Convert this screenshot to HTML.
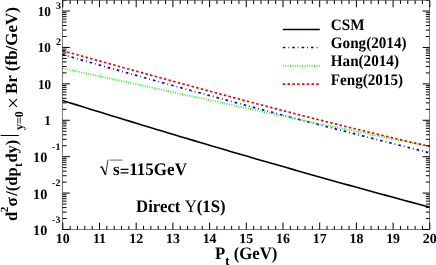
<!DOCTYPE html><html><head><meta charset="utf-8"><title>plot</title><style>
html,body{margin:0;padding:0;background:#fff;}body{width:436px;height:265px;overflow:hidden;}
svg{display:block;will-change:transform;}text{font-family:"Liberation Serif",serif;font-weight:bold;fill:#000;text-rendering:geometricPrecision;}
</style></head><body>
<svg width="436" height="265" viewBox="0 0 436 265">
<rect x="0" y="0" width="436" height="265" fill="#fff"/>
<g fill="none" stroke-linecap="butt">
<path d="M62.50,100.50 L68.72,102.44 L74.94,104.37 L81.16,106.31 L87.38,108.24 L93.60,110.16 L99.82,112.08 L106.04,114.00 L112.26,115.91 L118.48,117.82 L124.70,119.72 L130.92,121.62 L137.14,123.52 L143.36,125.41 L149.58,127.29 L155.81,129.18 L162.03,131.05 L168.25,132.92 L174.47,134.79 L180.69,136.66 L186.91,138.52 L193.13,140.37 L199.35,142.22 L205.57,144.06 L211.79,145.90 L218.01,147.74 L224.23,149.57 L230.45,151.40 L236.67,153.22 L242.89,155.03 L249.11,156.84 L255.33,158.65 L261.55,160.45 L267.77,162.25 L273.99,164.04 L280.21,165.82 L286.43,167.60 L292.65,169.38 L298.87,171.15 L305.09,172.92 L311.31,174.68 L317.53,176.43 L323.75,178.18 L329.97,179.93 L336.19,181.67 L342.42,183.40 L348.64,185.13 L354.86,186.85 L361.08,188.57 L367.30,190.28 L373.52,191.99 L379.74,193.69 L385.96,195.38 L392.18,197.07 L398.40,198.76 L404.62,200.44 L410.84,202.11 L417.06,203.78 L423.28,205.44 L429.50,207.10" stroke="#000" stroke-width="1.6"/>
<path d="M62.50,54.49 L68.72,56.28 L74.94,58.06 L81.16,59.84 L87.38,61.62 L93.60,63.39 L99.82,65.15 L106.04,66.91 L112.26,68.67 L118.48,70.42 L124.70,72.17 L130.92,73.91 L137.14,75.65 L143.36,77.38 L149.58,79.11 L155.81,80.84 L162.03,82.56 L168.25,84.27 L174.47,85.99 L180.69,87.69 L186.91,89.40 L193.13,91.10 L199.35,92.79 L205.57,94.48 L211.79,96.17 L218.01,97.86 L224.23,99.53 L230.45,101.21 L236.67,102.88 L242.89,104.55 L249.11,106.21 L255.33,107.87 L261.55,109.52 L267.77,111.17 L273.99,112.82 L280.21,114.46 L286.43,116.10 L292.65,117.74 L298.87,119.37 L305.09,121.00 L311.31,122.62 L317.53,124.24 L323.75,125.86 L329.97,127.47 L336.19,129.08 L342.42,130.68 L348.64,132.29 L354.86,133.88 L361.08,135.48 L367.30,137.07 L373.52,138.65 L379.74,140.24 L385.96,141.82 L392.18,143.39 L398.40,144.96 L404.62,146.53 L410.84,148.10 L417.06,149.66 L423.28,151.22 L429.50,152.77" stroke="#00f" stroke-width="1.7" stroke-dasharray="2.6 3.0 0.8 3.0"/>
<path d="M62.50,68.29 L68.72,69.62 L74.94,70.95 L81.16,72.28 L87.38,73.62 L93.60,74.96 L99.82,76.30 L106.04,77.64 L112.26,78.99 L118.48,80.33 L124.70,81.68 L130.92,83.03 L137.14,84.38 L143.36,85.73 L149.58,87.08 L155.81,88.43 L162.03,89.78 L168.25,91.14 L174.47,92.49 L180.69,93.84 L186.91,95.19 L193.13,96.55 L199.35,97.90 L205.57,99.25 L211.79,100.60 L218.01,101.95 L224.23,103.30 L230.45,104.65 L236.67,106.00 L242.89,107.34 L249.11,108.69 L255.33,110.03 L261.55,111.37 L267.77,112.71 L273.99,114.05 L280.21,115.38 L286.43,116.71 L292.65,118.04 L298.87,119.37 L305.09,120.70 L311.31,122.02 L317.53,123.33 L323.75,124.65 L329.97,125.96 L336.19,127.27 L342.42,128.57 L348.64,129.87 L354.86,131.17 L361.08,132.46 L367.30,133.75 L373.52,135.03 L379.74,136.31 L385.96,137.58 L392.18,138.85 L398.40,140.12 L404.62,141.37 L410.84,142.63 L417.06,143.88 L423.28,145.12 L429.50,146.36" stroke="#0f0" stroke-width="1.7" stroke-dasharray="0.9 1.5"/>
<path d="M62.50,50.70 L68.72,52.43 L74.94,54.16 L81.16,55.89 L87.38,57.62 L93.60,59.34 L99.82,61.07 L106.04,62.79 L112.26,64.52 L118.48,66.24 L124.70,67.96 L130.92,69.68 L137.14,71.40 L143.36,73.11 L149.58,74.82 L155.81,76.53 L162.03,78.24 L168.25,79.94 L174.47,81.64 L180.69,83.34 L186.91,85.03 L193.13,86.72 L199.35,88.41 L205.57,90.09 L211.79,91.77 L218.01,93.44 L224.23,95.11 L230.45,96.77 L236.67,98.43 L242.89,100.09 L249.11,101.73 L255.33,103.38 L261.55,105.01 L267.77,106.65 L273.99,108.27 L280.21,109.89 L286.43,111.50 L292.65,113.11 L298.87,114.71 L305.09,116.30 L311.31,117.88 L317.53,119.46 L323.75,121.03 L329.97,122.59 L336.19,124.15 L342.42,125.69 L348.64,127.23 L354.86,128.76 L361.08,130.28 L367.30,131.79 L373.52,133.29 L379.74,134.79 L385.96,136.27 L392.18,137.75 L398.40,139.21 L404.62,140.66 L410.84,142.11 L417.06,143.54 L423.28,144.97 L429.50,146.38" stroke="#f00" stroke-width="1.7" stroke-dasharray="2.5 2.28"/>
</g>
<g stroke="#000" stroke-width="1" fill="none" shape-rendering="auto">
<path d="M62.50,0.40 V229.50 H429.50 V0.40 Z" stroke-opacity="0.5"/>
<path d="M62.80,229.50 v-6.90 M62.80,0.40 v6.90"/>
<path d="M70.14,229.50 v-3.60 M70.14,0.40 v3.60"/>
<path d="M77.48,229.50 v-3.60 M77.48,0.40 v3.60"/>
<path d="M84.82,229.50 v-3.60 M84.82,0.40 v3.60"/>
<path d="M92.16,229.50 v-3.60 M92.16,0.40 v3.60"/>
<path d="M99.50,229.50 v-6.90 M99.50,0.40 v6.90"/>
<path d="M106.84,229.50 v-3.60 M106.84,0.40 v3.60"/>
<path d="M114.18,229.50 v-3.60 M114.18,0.40 v3.60"/>
<path d="M121.52,229.50 v-3.60 M121.52,0.40 v3.60"/>
<path d="M128.86,229.50 v-3.60 M128.86,0.40 v3.60"/>
<path d="M136.20,229.50 v-6.90 M136.20,0.40 v6.90"/>
<path d="M143.54,229.50 v-3.60 M143.54,0.40 v3.60"/>
<path d="M150.88,229.50 v-3.60 M150.88,0.40 v3.60"/>
<path d="M158.22,229.50 v-3.60 M158.22,0.40 v3.60"/>
<path d="M165.56,229.50 v-3.60 M165.56,0.40 v3.60"/>
<path d="M172.90,229.50 v-6.90 M172.90,0.40 v6.90"/>
<path d="M180.24,229.50 v-3.60 M180.24,0.40 v3.60"/>
<path d="M187.58,229.50 v-3.60 M187.58,0.40 v3.60"/>
<path d="M194.92,229.50 v-3.60 M194.92,0.40 v3.60"/>
<path d="M202.26,229.50 v-3.60 M202.26,0.40 v3.60"/>
<path d="M209.60,229.50 v-6.90 M209.60,0.40 v6.90"/>
<path d="M216.94,229.50 v-3.60 M216.94,0.40 v3.60"/>
<path d="M224.28,229.50 v-3.60 M224.28,0.40 v3.60"/>
<path d="M231.62,229.50 v-3.60 M231.62,0.40 v3.60"/>
<path d="M238.96,229.50 v-3.60 M238.96,0.40 v3.60"/>
<path d="M246.30,229.50 v-6.90 M246.30,0.40 v6.90"/>
<path d="M253.64,229.50 v-3.60 M253.64,0.40 v3.60"/>
<path d="M260.98,229.50 v-3.60 M260.98,0.40 v3.60"/>
<path d="M268.32,229.50 v-3.60 M268.32,0.40 v3.60"/>
<path d="M275.66,229.50 v-3.60 M275.66,0.40 v3.60"/>
<path d="M283.00,229.50 v-6.90 M283.00,0.40 v6.90"/>
<path d="M290.34,229.50 v-3.60 M290.34,0.40 v3.60"/>
<path d="M297.68,229.50 v-3.60 M297.68,0.40 v3.60"/>
<path d="M305.02,229.50 v-3.60 M305.02,0.40 v3.60"/>
<path d="M312.36,229.50 v-3.60 M312.36,0.40 v3.60"/>
<path d="M319.70,229.50 v-6.90 M319.70,0.40 v6.90"/>
<path d="M327.04,229.50 v-3.60 M327.04,0.40 v3.60"/>
<path d="M334.38,229.50 v-3.60 M334.38,0.40 v3.60"/>
<path d="M341.72,229.50 v-3.60 M341.72,0.40 v3.60"/>
<path d="M349.06,229.50 v-3.60 M349.06,0.40 v3.60"/>
<path d="M356.40,229.50 v-6.90 M356.40,0.40 v6.90"/>
<path d="M363.74,229.50 v-3.60 M363.74,0.40 v3.60"/>
<path d="M371.08,229.50 v-3.60 M371.08,0.40 v3.60"/>
<path d="M378.42,229.50 v-3.60 M378.42,0.40 v3.60"/>
<path d="M385.76,229.50 v-3.60 M385.76,0.40 v3.60"/>
<path d="M393.10,229.50 v-6.90 M393.10,0.40 v6.90"/>
<path d="M400.44,229.50 v-3.60 M400.44,0.40 v3.60"/>
<path d="M407.78,229.50 v-3.60 M407.78,0.40 v3.60"/>
<path d="M415.12,229.50 v-3.60 M415.12,0.40 v3.60"/>
<path d="M422.46,229.50 v-3.60 M422.46,0.40 v3.60"/>
<path d="M429.80,229.50 v-6.90 M429.80,0.40 v6.90"/>
<path d="M62.50,229.50 h7.35 M429.50,229.50 h-6.90"/>
<path d="M62.50,218.54 h4.05 M429.50,218.54 h-3.60"/>
<path d="M62.50,212.13 h4.05 M429.50,212.13 h-3.60"/>
<path d="M62.50,207.58 h4.05 M429.50,207.58 h-3.60"/>
<path d="M62.50,204.05 h4.05 M429.50,204.05 h-3.60"/>
<path d="M62.50,201.17 h4.05 M429.50,201.17 h-3.60"/>
<path d="M62.50,198.73 h4.05 M429.50,198.73 h-3.60"/>
<path d="M62.50,196.62 h4.05 M429.50,196.62 h-3.60"/>
<path d="M62.50,194.76 h4.05 M429.50,194.76 h-3.60"/>
<path d="M62.50,193.09 h7.35 M429.50,193.09 h-6.90"/>
<path d="M62.50,182.13 h4.05 M429.50,182.13 h-3.60"/>
<path d="M62.50,175.72 h4.05 M429.50,175.72 h-3.60"/>
<path d="M62.50,171.17 h4.05 M429.50,171.17 h-3.60"/>
<path d="M62.50,167.64 h4.05 M429.50,167.64 h-3.60"/>
<path d="M62.50,164.76 h4.05 M429.50,164.76 h-3.60"/>
<path d="M62.50,162.32 h4.05 M429.50,162.32 h-3.60"/>
<path d="M62.50,160.21 h4.05 M429.50,160.21 h-3.60"/>
<path d="M62.50,158.35 h4.05 M429.50,158.35 h-3.60"/>
<path d="M62.50,156.68 h7.35 M429.50,156.68 h-6.90"/>
<path d="M62.50,145.72 h4.05 M429.50,145.72 h-3.60"/>
<path d="M62.50,139.31 h4.05 M429.50,139.31 h-3.60"/>
<path d="M62.50,134.76 h4.05 M429.50,134.76 h-3.60"/>
<path d="M62.50,131.23 h4.05 M429.50,131.23 h-3.60"/>
<path d="M62.50,128.35 h4.05 M429.50,128.35 h-3.60"/>
<path d="M62.50,125.91 h4.05 M429.50,125.91 h-3.60"/>
<path d="M62.50,123.80 h4.05 M429.50,123.80 h-3.60"/>
<path d="M62.50,121.94 h4.05 M429.50,121.94 h-3.60"/>
<path d="M62.50,120.27 h7.35 M429.50,120.27 h-6.90"/>
<path d="M62.50,109.31 h4.05 M429.50,109.31 h-3.60"/>
<path d="M62.50,102.90 h4.05 M429.50,102.90 h-3.60"/>
<path d="M62.50,98.35 h4.05 M429.50,98.35 h-3.60"/>
<path d="M62.50,94.82 h4.05 M429.50,94.82 h-3.60"/>
<path d="M62.50,91.94 h4.05 M429.50,91.94 h-3.60"/>
<path d="M62.50,89.50 h4.05 M429.50,89.50 h-3.60"/>
<path d="M62.50,87.39 h4.05 M429.50,87.39 h-3.60"/>
<path d="M62.50,85.53 h4.05 M429.50,85.53 h-3.60"/>
<path d="M62.50,83.86 h7.35 M429.50,83.86 h-6.90"/>
<path d="M62.50,72.90 h4.05 M429.50,72.90 h-3.60"/>
<path d="M62.50,66.49 h4.05 M429.50,66.49 h-3.60"/>
<path d="M62.50,61.94 h4.05 M429.50,61.94 h-3.60"/>
<path d="M62.50,58.41 h4.05 M429.50,58.41 h-3.60"/>
<path d="M62.50,55.53 h4.05 M429.50,55.53 h-3.60"/>
<path d="M62.50,53.09 h4.05 M429.50,53.09 h-3.60"/>
<path d="M62.50,50.98 h4.05 M429.50,50.98 h-3.60"/>
<path d="M62.50,49.12 h4.05 M429.50,49.12 h-3.60"/>
<path d="M62.50,47.45 h7.35 M429.50,47.45 h-6.90"/>
<path d="M62.50,36.49 h4.05 M429.50,36.49 h-3.60"/>
<path d="M62.50,30.08 h4.05 M429.50,30.08 h-3.60"/>
<path d="M62.50,25.53 h4.05 M429.50,25.53 h-3.60"/>
<path d="M62.50,22.00 h4.05 M429.50,22.00 h-3.60"/>
<path d="M62.50,19.12 h4.05 M429.50,19.12 h-3.60"/>
<path d="M62.50,16.68 h4.05 M429.50,16.68 h-3.60"/>
<path d="M62.50,14.57 h4.05 M429.50,14.57 h-3.60"/>
<path d="M62.50,12.71 h4.05 M429.50,12.71 h-3.60"/>
<path d="M62.50,11.04 h7.35 M429.50,11.04 h-6.90"/>
<path d="M62.50,0.08 h4.05 M429.50,0.08 h-3.60"/>
</g>
<text transform="translate(62.80,242.9) scale(1,1.0)" font-size="13.9" text-anchor="middle">10</text>
<text transform="translate(99.50,242.9) scale(1,1.0)" font-size="13.9" text-anchor="middle">11</text>
<text transform="translate(136.20,242.9) scale(1,1.0)" font-size="13.9" text-anchor="middle">12</text>
<text transform="translate(172.90,242.9) scale(1,1.0)" font-size="13.9" text-anchor="middle">13</text>
<text transform="translate(209.60,242.9) scale(1,1.0)" font-size="13.9" text-anchor="middle">14</text>
<text transform="translate(246.30,242.9) scale(1,1.0)" font-size="13.9" text-anchor="middle">15</text>
<text transform="translate(283.00,242.9) scale(1,1.0)" font-size="13.9" text-anchor="middle">16</text>
<text transform="translate(319.70,242.9) scale(1,1.0)" font-size="13.9" text-anchor="middle">17</text>
<text transform="translate(356.40,242.9) scale(1,1.0)" font-size="13.9" text-anchor="middle">18</text>
<text transform="translate(393.10,242.9) scale(1,1.0)" font-size="13.9" text-anchor="middle">19</text>
<text transform="translate(429.80,242.9) scale(1,1.0)" font-size="13.9" text-anchor="middle">20</text>
<text transform="translate(47.30,235.00) scale(1,1.010)" font-size="14.20" text-anchor="end">10</text>
<text transform="translate(60.40,222.70) scale(1,1.000)" font-size="10.00" text-anchor="end">-3</text>
<text transform="translate(47.30,198.59) scale(1,1.010)" font-size="14.20" text-anchor="end">10</text>
<text transform="translate(60.40,186.29) scale(1,1.000)" font-size="10.00" text-anchor="end">-2</text>
<text transform="translate(47.30,162.18) scale(1,1.010)" font-size="14.20" text-anchor="end">10</text>
<text transform="translate(60.40,149.88) scale(1,1.000)" font-size="10.00" text-anchor="end">-1</text>
<text transform="translate(50.90,124.87) scale(1,1.040)" font-size="13.20" text-anchor="end">1</text>
<text transform="translate(51.20,89.06) scale(1,1.040)" font-size="13.20" text-anchor="end">10</text>
<text transform="translate(50.90,52.05) scale(1,1.040)" font-size="13.20" text-anchor="end">10</text>
<text transform="translate(60.90,45.35) scale(1,1.000)" font-size="10.00" text-anchor="end">2</text>
<text transform="translate(50.90,15.64) scale(1,1.040)" font-size="13.20" text-anchor="end">10</text>
<text transform="translate(60.90,8.94) scale(1,1.000)" font-size="10.00" text-anchor="end">3</text>
<text transform="translate(214.9,258.6) scale(1,1.04)" font-size="16.8">P<tspan font-size="12.5" dy="6.6" dx="0.1">t</tspan><tspan dy="-6.6"> (GeV)</tspan></text>
<g transform="translate(17.0,220.6) rotate(-90)">
<text x="-0.30" y="0.00" font-size="16.50" style="font-weight:bold">d</text>
<text x="8.40" y="-8.60" font-size="11.00" style="font-weight:bold">2</text>
<text x="14.00" y="0.00" font-size="17.00" style="font-weight:bold">σ</text>
<text x="24.90" y="0.00" font-size="16.50" style="font-weight:bold">/(dp</text>
<text x="53.50" y="5.40" font-size="12.00" style="font-weight:bold">t</text>
<text x="58.00" y="0.00" font-size="16.50" style="font-weight:bold">dy)</text>
<path d="M85.1,-16.4 V1.9" stroke="#000" stroke-width="1"/>
<text x="90.60" y="5.70" font-size="12.00" style="font-weight:bold">y=0</text>
<text x="111.70" y="2.60" font-size="21.00" style="font-weight:normal">×</text>
<text x="126.60" y="0.00" font-size="17.00" style="font-weight:bold">Br (fb/GeV)</text>
</g>
<g fill="none" stroke-width="1.7">
<path d="M282.8,29.40 H319.8" stroke="#000" stroke-width="1.5"/>
<path d="M282.8,47.50 H319.8" stroke="#00f" stroke-dasharray="2.6 3.0 0.8 3.0"/>
<path d="M282.8,65.80 H319.8" stroke="#0f0" stroke-dasharray="0.9 1.5"/>
<path d="M282.8,84.10 H319.8" stroke="#f00" stroke-dasharray="2.5 2.28"/>
</g>
<text transform="translate(330.8,29.60) scale(1,1.06)" font-size="15.15">CSM</text>
<text transform="translate(330.8,47.90) scale(1,1.06)" font-size="15.15">Gong(2014)</text>
<text transform="translate(330.8,66.20) scale(1,1.06)" font-size="15.15">Han(2014)</text>
<text transform="translate(330.8,84.50) scale(1,1.06)" font-size="15.15">Feng(2015)</text>
<path d="M99.9,167.6 L101.8,166.4" fill="none" stroke="#000" stroke-width="0.8"/>
<path d="M101.7,166.5 L105.4,174.6" fill="none" stroke="#000" stroke-width="1.5"/>
<path d="M105.6,175.0 L108.0,159.7" fill="none" stroke="#000" stroke-width="0.8"/>
<path d="M109.8,160.1 H122.5" fill="none" stroke="#000" stroke-width="1" stroke-opacity="0.6"/>
<text transform="translate(113.0,175.1) scale(1,1.04)" font-size="17.0">s<tspan dy="1.4">=</tspan><tspan dy="-1.4">115GeV</tspan></text>
<text transform="translate(136.1,211.5) scale(1,1.05)" font-size="16.75">Direct <tspan style="font-weight:normal">Υ</tspan>(1S)</text>
</svg></body></html>
